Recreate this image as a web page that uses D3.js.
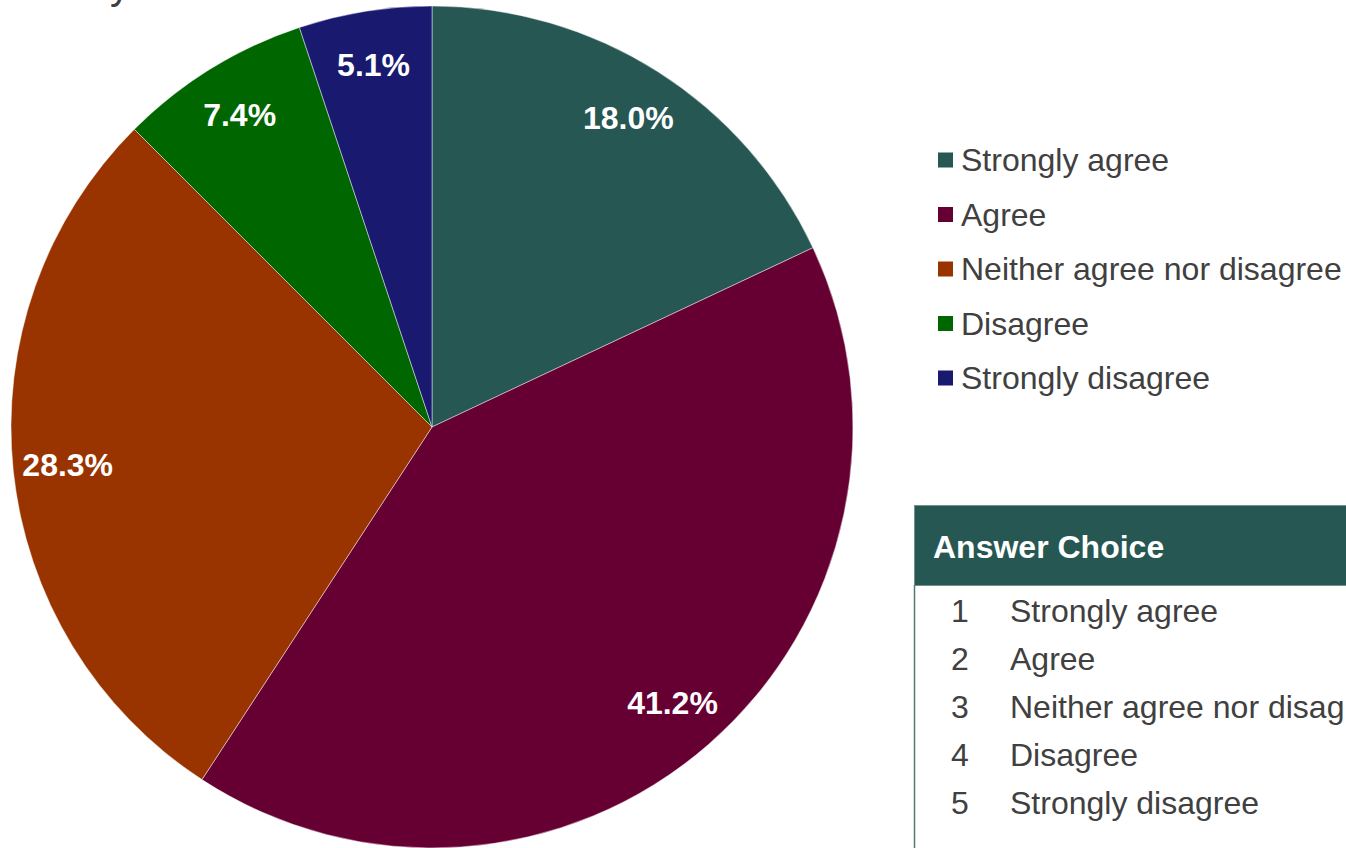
<!DOCTYPE html>
<html>
<head>
<meta charset="utf-8">
<script src="https://cdn.jsdelivr.net/npm/d3@7"></script>
<style>
html,body{margin:0;padding:0;background:#fff;overflow:hidden;}
svg{display:block;font-family:"Liberation Sans",Arial,sans-serif;}
</style>
</head>
<body>
<svg id="chart" width="1346" height="848"></svg>
<script>
const categories = ["Strongly agree","Agree","Neither agree nor disagree","Disagree","Strongly disagree"];
const values = [18.0, 41.2, 28.3, 7.4, 5.1];
const colors = ["#265753","#660033","#993300","#006600","#191970"];
const tableHeader = "Answer Choice";
const tableNumbers = ["1","2","3","4","5"];
const titleFragment = "y";

const W = 1346, H = 848;
const svg = d3.select("#chart");
const cx = 432, cy = 427, R = 421;

// clipped title remnant
svg.append("text").attr("x", 110).attr("y", -1)
  .attr("font-size", 40).attr("fill", "#404040").text(titleFragment);

const data = categories.map((c,i)=>({name:c, value:values[i], color:colors[i]}));
const pie = d3.pie().value(d=>d.value).sort(null);
const arcs = pie(data);
const arc = d3.arc().innerRadius(0).outerRadius(R);
const labelArc = d3.arc().innerRadius(R*0.87).outerRadius(R*0.87);

const g = svg.append("g").attr("transform", `translate(${cx},${cy})`);
g.selectAll("path").data(arcs).enter().append("path")
  .attr("d", arc).attr("fill", d=>d.data.color)
  .attr("stroke", "rgba(255,255,255,0.45)").attr("stroke-width", 1);

g.selectAll("text.lbl").data(arcs).enter().append("text")
  .attr("class","lbl")
  .attr("transform", d=>`translate(${labelArc.centroid(d)})`)
  .attr("text-anchor","middle").attr("dominant-baseline","central")
  .attr("font-size", 32).attr("font-weight","bold").attr("fill","#fff")
  .text(d=>d.data.value.toFixed(1)+"%");

// legend
const lg = svg.append("g");
const legY = d3.scalePoint().domain(categories).range([160, 378]);
const items = lg.selectAll("g").data(data).enter().append("g")
  .attr("transform", d=>`translate(938,${legY(d.name)})`);
items.append("rect").attr("x",0).attr("y",-7.5).attr("width",15).attr("height",15).attr("fill",d=>d.color);
items.append("text").attr("x",23).attr("y",0).attr("dominant-baseline","central")
  .attr("font-size",32).attr("fill","#404040").text(d=>d.name);

// table
const tg = svg.append("g");
tg.append("rect").attr("x",914.5).attr("y",505.5).attr("width",500).attr("height",80)
  .attr("fill","#265753").attr("stroke","#6f9490").attr("stroke-width",1);
tg.append("text").attr("x",933).attr("y",547).attr("dominant-baseline","central")
  .attr("font-size",32).attr("font-weight","bold").attr("fill","#fff").text(tableHeader);
tg.append("line").attr("x1",914.5).attr("x2",914.5).attr("y1",585).attr("y2",H)
  .attr("stroke","#4f7a76").attr("stroke-width",1.5);
const rowY = d3.scalePoint().domain(tableNumbers).range([611, 803]);
tableNumbers.forEach((n,i)=>{
  tg.append("text").attr("x",960).attr("y",rowY(n)).attr("text-anchor","middle")
    .attr("dominant-baseline","central").attr("font-size",32).attr("fill","#404040").text(n);
  tg.append("text").attr("x",1010).attr("y",rowY(n))
    .attr("dominant-baseline","central").attr("font-size",32).attr("fill","#404040").text(categories[i]);
});
</script>
</body>
</html>
